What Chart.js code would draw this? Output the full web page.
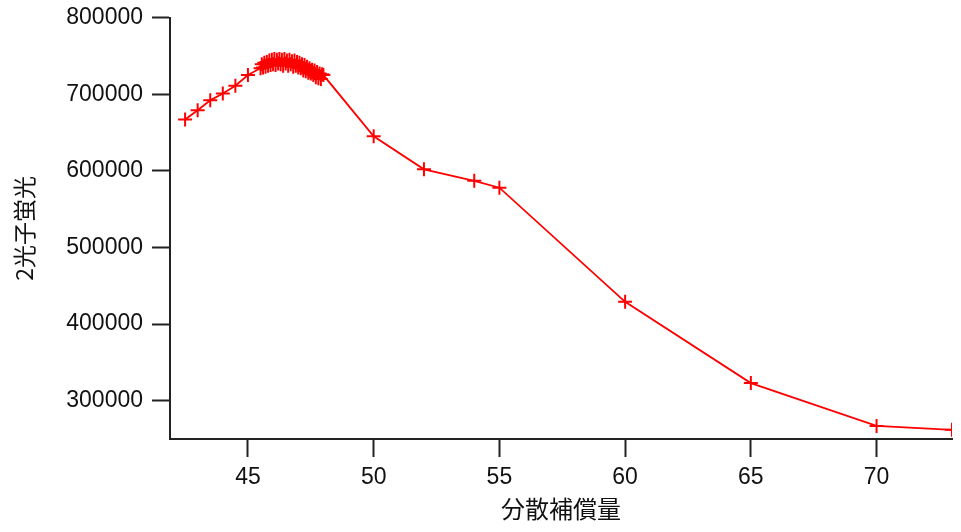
<!DOCTYPE html>
<html>
<head>
<meta charset="utf-8">
<script src="https://cdn.jsdelivr.net/npm/chart.js@4/dist/chart.umd.min.js"></script>
<style>
  html, body { margin: 0; padding: 0; background: #fff; }
  #wrap { width: 961px; height: 532px; }
</style>
</head>
<body>
<div id="wrap"><canvas id="c" width="961" height="532"></canvas></div>
<script>
// Data
const xValues = [42.5, 43, 43.5, 44, 44.5, 45,
  45.50, 45.55, 45.60, 45.65, 45.70, 45.75, 45.80, 45.85, 45.90, 45.95,
  46.00, 46.05, 46.10, 46.15, 46.20, 46.25, 46.30, 46.35, 46.40, 46.45,
  46.50, 46.55, 46.60, 46.65, 46.70, 46.75, 46.80, 46.85, 46.90, 46.95,
  47.00, 47.05, 47.10, 47.15, 47.20, 47.25, 47.30, 47.35, 47.40, 47.45,
  47.50, 47.55, 47.60, 47.65, 47.70, 47.75, 47.80, 47.85, 47.90, 47.95, 48.00,
  50, 52, 54, 55, 60, 65, 70, 73];
const yValues = [667000, 679000, 692000, 701000, 711000, 725000,
  734000, 739000, 735000, 741000, 736000, 742000, 737000, 744000, 738000, 745000,
  739000, 746000, 738000, 745000, 740000, 746000, 739000, 745000, 737000, 746000,
  740000, 744000, 737000, 745000, 739000, 743000, 736000, 744000, 737000, 742000,
  735000, 741000, 734000, 739000, 731000, 738000, 730000, 736000, 728000, 734000,
  727000, 732000, 725000, 731000, 722000, 729000, 721000, 727000, 720000, 726000, 725000,
  645000, 602000, 587000, 578000, 429000, 323000, 267000, 262000];
const xTicks = [45, 50, 55, 60, 65, 70];
const yTicks = [300000, 400000, 500000, 600000, 700000, 800000];
const xTitle = '分散補償量';
const yTitle = '2光子蛍光';

const points = xValues.map((x, i) => ({ x: x, y: yValues[i] }));
const axisColor = '#222';
const tickFont = { family: '"Liberation Sans", Arial, sans-serif', size: 23 };
const titleFontFamily = '"Noto Sans CJK JP", "Liberation Sans", sans-serif';

new Chart(document.getElementById('c'), {
  type: 'scatter',
  data: {
    datasets: [{
      data: points,
      showLine: true,
      borderColor: '#ff0000',
      backgroundColor: '#ff0000',
      borderWidth: 1.8,
      pointStyle: 'cross',
      pointRadius: 7,
      pointBorderWidth: 2,
      pointBorderColor: '#ff0000',
      tension: 0
    }]
  },
  options: {
    responsive: false,
    animation: false,
    devicePixelRatio: 1,
    layout: { padding: { left: 0, top: 17.6, right: 9, bottom: 0 } },
    plugins: { legend: { display: false }, tooltip: { enabled: false } },
    scales: {
      x: {
        type: 'linear',
        min: 41.9,
        max: 73,
        afterBuildTicks: (s) => { s.ticks = xTicks.map(v => ({ value: v })); },
        afterFit: (s) => { s.height = 93; s.paddingLeft = 0; s.paddingRight = 0; },
        border: { display: true, color: axisColor, width: 2 },
        grid: { drawOnChartArea: false, drawTicks: true, tickLength: 18, tickWidth: 2, tickColor: axisColor },
        ticks: { color: '#111', font: tickFont, padding: 7, maxRotation: 0, autoSkip: false },
        title: { display: true, text: xTitle, color: '#111',
          font: { family: titleFontFamily, size: 24 }, padding: { top: 0, bottom: 9 } }
      },
      y: {
        type: 'linear',
        min: 250000,
        max: 800000,
        afterBuildTicks: (s) => { s.ticks = yTicks.map(v => ({ value: v })); },
        afterFit: (s) => { s.width = 170; s.paddingTop = 0; s.paddingBottom = 0; },
        border: { display: true, color: axisColor, width: 2 },
        grid: { drawOnChartArea: false, drawTicks: true, tickLength: 18, tickWidth: 2, tickColor: axisColor },
        ticks: { color: '#111', font: tickFont, padding: 9, autoSkip: false,
          callback: (v) => String(v) },
        title: { display: true, text: yTitle, color: '#111',
          font: { family: titleFontFamily, size: 23 }, padding: { top: 10, bottom: 0 } }
      }
    }
  }
});
</script>
</body>
</html>
